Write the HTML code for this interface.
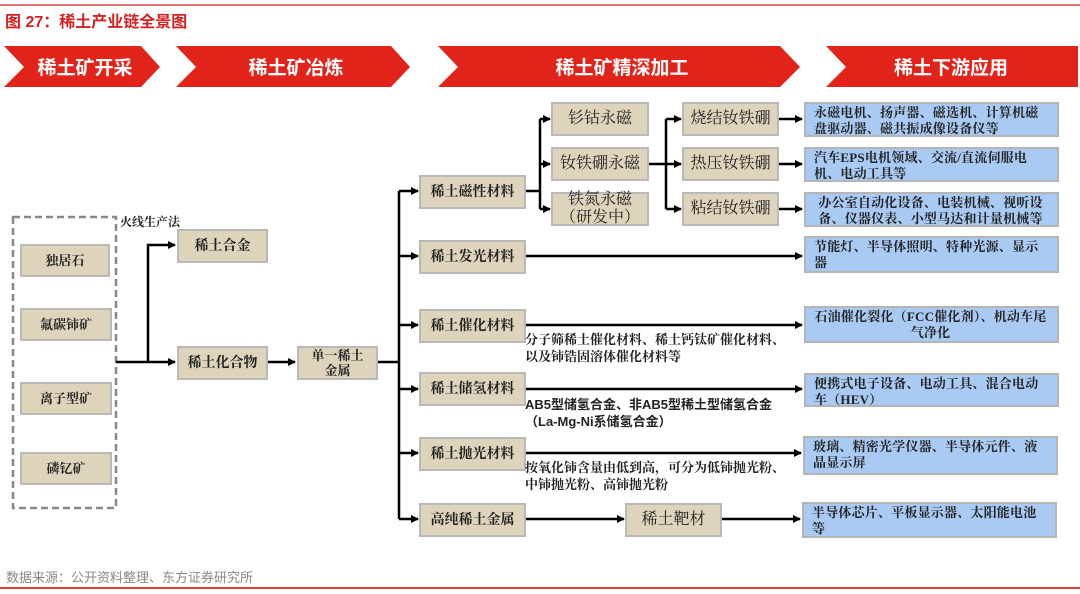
<!DOCTYPE html>
<html><head><meta charset="utf-8"><style>
body{margin:0;width:1080px;height:594px;background:#fff;position:relative;overflow:hidden;font-family:"Liberation Serif","Noto Serif CJK SC","Noto Sans CJK SC",serif;}
.a{position:absolute;box-sizing:border-box;}
.b{position:absolute;box-sizing:border-box;background:#ddd4bb;border:2px solid #b9b9b9;display:flex;align-items:center;justify-content:center;text-align:center;font-size:13px;font-weight:bold;color:#222;line-height:15px;white-space:nowrap;}
.m{font-size:14px;}
.big{font-size:16px;line-height:18px;font-weight:normal}
.u{position:absolute;box-sizing:border-box;background:#a9caf3;border:2px solid #b5b5b5;font-size:13px;font-weight:bold;color:#222;line-height:16px;padding:1px 10px 1px 8px;letter-spacing:0.2px;}
.t{position:absolute;font-size:13px;font-weight:bold;color:#222;line-height:17px;white-space:nowrap;}
.chev{position:absolute;font-family:"Liberation Sans","Noto Sans CJK SC",sans-serif;color:#fff;font-size:19px;font-weight:bold;display:flex;align-items:center;justify-content:center;}
</style></head><body>
<div class="a" style="left:0;top:4px;width:1080px;height:2px;background:#e27474"></div>
<div class="a" style="left:5px;top:8px;font-family:'Liberation Sans','Noto Sans CJK SC',sans-serif;font-size:16px;font-weight:bold;color:#d42020">图 27：稀土产业链全景图</div>
<svg class="a" style="left:0;top:0" width="1080" height="594">
<g fill="#e2231a">
<polygon points="4,46 141,46 160,67 141,87 4,87 24,67"/>
<polygon points="176,46 391,46 410,67 391,87 176,87 196,67"/>
<polygon points="438,46 780,46 800,67 780,87 438,87 458,67"/>
<polygon points="826,46 1078,46 1078,87 826,87 846,67"/>
</g>
<rect x="13" y="217" width="103" height="291" fill="none" stroke="#888" stroke-width="2.5" stroke-dasharray="7,4"/>
<defs><marker id="m" markerWidth="8" markerHeight="8" refX="7" refY="4" orient="auto" markerUnits="userSpaceOnUse"><polygon points="0,0 8,4 0,8" fill="#000"/></marker></defs>
<g stroke="#000" stroke-width="2.5" fill="none">
<line x1="116" y1="362" x2="175" y2="362" marker-end="url(#m)"/>
<polyline points="148,362 148,245 175,245" marker-end="url(#m)"/>
<line x1="268" y1="362" x2="295" y2="362" marker-end="url(#m)"/>
<line x1="378" y1="362" x2="399" y2="362"/>
<line x1="399" y1="191" x2="399" y2="519"/>
<line x1="399" y1="191" x2="418" y2="191" marker-end="url(#m)"/>
<line x1="399" y1="256" x2="418" y2="256" marker-end="url(#m)"/>
<line x1="399" y1="325" x2="418" y2="325" marker-end="url(#m)"/>
<line x1="399" y1="389" x2="418" y2="389" marker-end="url(#m)"/>
<line x1="399" y1="453" x2="418" y2="453" marker-end="url(#m)"/>
<line x1="399" y1="519" x2="418" y2="519" marker-end="url(#m)"/>
<line x1="526" y1="191" x2="540" y2="191"/>
<line x1="540" y1="119" x2="540" y2="209"/>
<line x1="540" y1="119" x2="550" y2="119" marker-end="url(#m)"/>
<line x1="540" y1="164" x2="550" y2="164" marker-end="url(#m)"/>
<line x1="540" y1="209" x2="550" y2="209" marker-end="url(#m)"/>
<line x1="649" y1="164" x2="666" y2="164"/>
<line x1="666" y1="119" x2="666" y2="209"/>
<line x1="666" y1="119" x2="681" y2="119" marker-end="url(#m)"/>
<line x1="666" y1="164" x2="681" y2="164" marker-end="url(#m)"/>
<line x1="666" y1="209" x2="681" y2="209" marker-end="url(#m)"/>
<line x1="779" y1="119" x2="802" y2="119" marker-end="url(#m)"/>
<line x1="779" y1="164" x2="802" y2="164" marker-end="url(#m)"/>
<line x1="779" y1="209" x2="802" y2="209" marker-end="url(#m)"/>
<line x1="526" y1="256" x2="802" y2="256" marker-end="url(#m)"/>
<line x1="526" y1="325" x2="802" y2="325" marker-end="url(#m)"/>
<line x1="526" y1="389" x2="802" y2="389" marker-end="url(#m)"/>
<line x1="526" y1="453" x2="801" y2="453" marker-end="url(#m)"/>
<line x1="526" y1="519" x2="624" y2="519" marker-end="url(#m)"/>
<line x1="722" y1="519" x2="800" y2="519" marker-end="url(#m)"/>
</g>
</svg>
<div class="chev" style="left:24px;top:46px;width:122px;height:41px">稀土矿开采</div>
<div class="chev" style="left:196px;top:46px;width:200px;height:41px">稀土矿冶炼</div>
<div class="chev" style="left:458px;top:46px;width:328px;height:41px">稀土矿精深加工</div>
<div class="chev" style="left:846px;top:46px;width:210px;height:41px">稀土下游应用</div>

<div class="b" style="left:20px;top:244px;width:90px;height:33px">独居石</div>
<div class="b" style="left:20px;top:308px;width:92px;height:33px">氟碳铈矿</div>
<div class="b" style="left:20px;top:382px;width:92px;height:33px">离子型矿</div>
<div class="b" style="left:20px;top:452px;width:92px;height:33px">磷钇矿</div>
<div class="t" style="left:120px;top:214px;font-size:12px">火线生产法</div>
<div class="b m" style="left:177px;top:229px;width:91px;height:34px">稀土合金</div>
<div class="b m" style="left:177px;top:346px;width:91px;height:34px">稀土化合物</div>
<div class="b" style="left:297px;top:346px;width:81px;height:34px">单一稀土<br>金属</div>
<div class="b m" style="left:419px;top:175px;width:107px;height:34px">稀土磁性材料</div>
<div class="b m" style="left:419px;top:240px;width:107px;height:34px">稀土发光材料</div>
<div class="b m" style="left:419px;top:309px;width:107px;height:34px">稀土催化材料</div>
<div class="b m" style="left:419px;top:372px;width:107px;height:34px">稀土储氢材料</div>
<div class="b m" style="left:419px;top:437px;width:107px;height:34px">稀土抛光材料</div>
<div class="b m" style="left:419px;top:503px;width:107px;height:34px">高纯稀土金属</div>
<div class="b big" style="left:625px;top:503px;width:97px;height:34px">稀土靶材</div>
<div class="b big" style="left:551px;top:102px;width:98px;height:34px">钐钴永磁</div>
<div class="b big" style="left:551px;top:147px;width:98px;height:34px">钕铁硼永磁</div>
<div class="b big" style="left:551px;top:192px;width:98px;height:34px">铁氮永磁<br>（研发中）</div>
<div class="b big" style="left:682px;top:102px;width:97px;height:34px">烧结钕铁硼</div>
<div class="b big" style="left:682px;top:147px;width:97px;height:34px">热压钕铁硼</div>
<div class="b big" style="left:682px;top:192px;width:97px;height:34px">粘结钕铁硼</div>

<div class="u" style="left:804px;top:102px;width:255px;height:35px">永磁电机、扬声器、磁选机、计算机磁盘驱动器、磁共振成像设备仪等</div>
<div class="u" style="left:804px;top:147px;width:255px;height:35px">汽车EPS电机领域、交流/直流伺服电机、电动工具等</div>
<div class="u" style="left:804px;top:192px;width:255px;height:35px;text-align:center">办公室自动化设备、电装机械、视听设备、仪器仪表、小型马达和计量机械等</div>
<div class="u" style="left:804px;top:236px;width:255px;height:37px">节能灯、半导体照明、特种光源、显示器</div>
<div class="u" style="left:804px;top:306px;width:255px;height:37px;text-align:center">石油催化裂化（FCC催化剂）、机动车尾气净化</div>
<div class="u" style="left:804px;top:373px;width:255px;height:34px">便携式电子设备、电动工具、混合电动车（HEV）</div>
<div class="u" style="left:803px;top:436px;width:255px;height:39px">玻璃、精密光学仪器、半导体元件、液晶显示屏</div>
<div class="u" style="left:802px;top:502px;width:255px;height:36px">半导体芯片、平板显示器、太阳能电池等</div>

<div class="t" style="left:525px;top:331px">分子筛稀土催化材料、稀土钙钛矿催化材料、<br>以及铈锆固溶体催化材料等</div>
<div class="t" style="left:525px;top:396px;font-family:'Liberation Sans','Noto Sans CJK SC',sans-serif;">AB5型储氢合金、非AB5型稀土型储氢合金<br>（La-Mg-Ni系储氢合金）</div>
<div class="t" style="left:525px;top:459px">按氧化铈含量由低到高，可分为低铈抛光粉、<br>中铈抛光粉、高铈抛光粉</div>

<div class="a" style="left:6px;top:567px;font-family:'Liberation Sans','Noto Sans CJK SC',sans-serif;font-size:13px;color:#888">数据来源：公开资料整理、东方证券研究所</div>
<div class="a" style="left:0;top:587px;width:1080px;height:2px;background:#e24040"></div>
</body></html>
